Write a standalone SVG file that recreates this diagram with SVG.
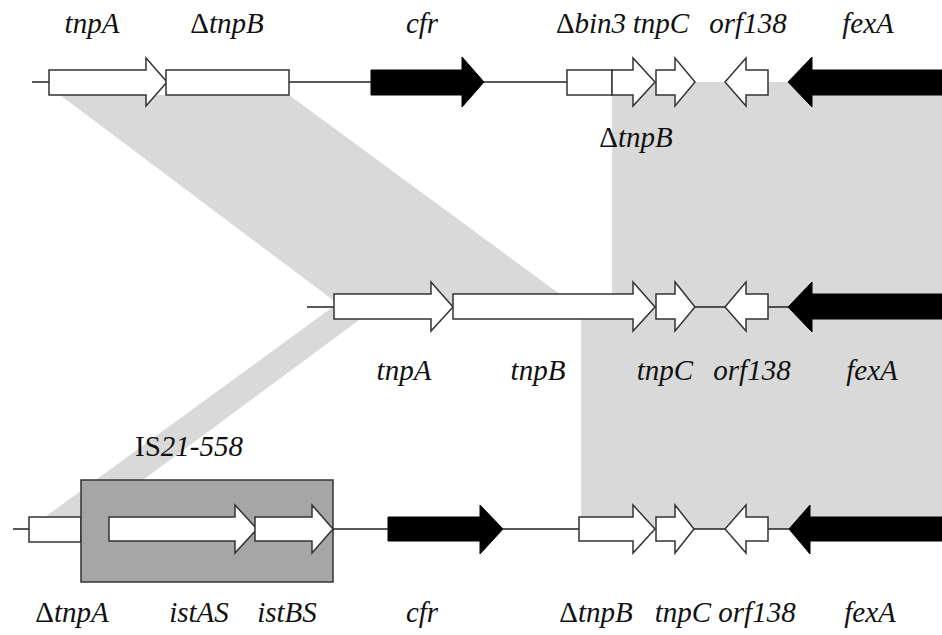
<svg xmlns="http://www.w3.org/2000/svg" width="942" height="635" viewBox="0 0 942 635" font-family="Liberation Serif, serif">
<style>
.bg{fill:#ffffff}
.band{fill:#d9d9d9;stroke:none}
.ln{stroke:#222;stroke-width:1.5;fill:none}
.w{fill:#ffffff;stroke:#333;stroke-width:1.5;stroke-linejoin:miter}
.k{fill:#000000;stroke:#000;stroke-width:1}
.is{fill:#a6a6a6;stroke:#333;stroke-width:1.5}
.t{font-family:'Liberation Serif','Times New Roman',serif;font-size:29px;font-style:italic;fill:#111;text-anchor:middle}
.up{font-style:normal}
</style>
<rect class="bg" x="0" y="0" width="942" height="635"/>
<g id="homology">
<polygon class="band" points="60,95 289,95 576,306 341,306"/>
<polygon class="band" points="334,306 378,306 93,517 45,517"/>
<polygon class="band" points="612,82 945,82 945,529 581,529 581,307 612,307"/>
</g>
<g id="connectors">
<line class="ln" x1="32" y1="82" x2="49" y2="82"/>
<line class="ln" x1="289" y1="82" x2="371" y2="82"/>
<line class="ln" x1="484" y1="82" x2="567" y2="82"/>
<line class="ln" x1="307" y1="307" x2="334" y2="307"/>
<line class="ln" x1="695" y1="307" x2="725" y2="307"/>
<line class="ln" x1="768" y1="307" x2="788" y2="307"/>
<line class="ln" x1="13" y1="529" x2="29" y2="529"/>
<line class="ln" x1="333" y1="529" x2="388" y2="529"/>
<line class="ln" x1="503" y1="529" x2="579" y2="529"/>
<line class="ln" x1="694" y1="529" x2="725" y2="529"/>
<line class="ln" x1="768" y1="529" x2="789" y2="529"/>
</g>
<g id="row1">
<g id="r1-tnpA"><polygon class="w" points="49,70 146,70 146,58 167,82 146,106 146,95 49,95"/><text class="t" x="92" y="33">tnpA</text></g>
<g id="r1-dtnpB"><rect class="w" x="166" y="70" width="123" height="25"/><text class="t" x="227" y="33"><tspan class="up">Δ</tspan>tnpB</text></g>
<g id="r1-cfr"><polygon class="k" points="371,70 462,70 462,57 484,82 462,107 462,95 371,95"/><text class="t" x="422" y="33">cfr</text></g>
<g id="r1-dbin3"><rect class="w" x="567" y="70" width="45" height="25"/><text class="t" x="591" y="33"><tspan class="up">Δ</tspan>bin3</text></g>
<g id="r1-dtnpB2"><polygon class="w" points="612,70 633,70 633,58 655,82 633,106 633,95 612,95"/><text class="t" x="636" y="147"><tspan class="up">Δ</tspan>tnpB</text></g>
<g id="r1-tnpC"><polygon class="w" points="656,70 675,70 675,58 695,82 675,106 675,95 656,95"/><text class="t" x="661" y="33">tnpC</text></g>
<g id="r1-orf138"><polygon class="w" points="768,70 746,70 746,58 725,82 746,106 746,95 768,95"/><text class="t" x="748" y="33">orf138</text></g>
<g id="r1-fexA"><polygon class="k" points="945,70 812,70 812,57 788,82 812,107 812,95 945,95"/><text class="t" x="868" y="33">fexA</text></g>
</g>
<g id="row2">
<g id="r2-tnpA"><polygon class="w" points="334,294 431,294 431,282 453,307 431,331 431,319 334,319"/><text class="t" x="404" y="380">tnpA</text></g>
<g id="r2-tnpB"><polygon class="w" points="453,294 633,294 633,282 655,307 633,331 633,319 453,319"/><text class="t" x="538" y="380">tnpB</text></g>
<g id="r2-tnpC"><polygon class="w" points="656,294 675,294 675,282 695,307 675,331 675,319 656,319"/><text class="t" x="665" y="380">tnpC</text></g>
<g id="r2-orf138"><polygon class="w" points="768,294 746,294 746,282 725,307 746,331 746,319 768,319"/><text class="t" x="752" y="380">orf138</text></g>
<g id="r2-fexA"><polygon class="k" points="945,294 812,294 812,282 788,307 812,332 812,319 945,319"/><text class="t" x="872" y="380">fexA</text></g>
</g>
<g id="row3">
<g id="r3-dtnpA"><rect class="w" x="29" y="517" width="52" height="25"/><text class="t" x="72" y="622"><tspan class="up">Δ</tspan>tnpA</text></g>
<g id="r3-IS"><rect class="is" x="81" y="480" width="252" height="102"/><text class="t" x="189" y="456"><tspan class="up">IS</tspan>21-558</text></g>
<g id="r3-istAS"><polygon class="w" points="109,517 235,517 235,505 257,529 235,553 235,541 109,541"/><text class="t" x="199" y="622">istAS</text></g>
<g id="r3-istBS"><polygon class="w" points="255,517 312,517 312,505 333,529 312,553 312,541 255,541"/><text class="t" x="287" y="622">istBS</text></g>
<g id="r3-cfr"><polygon class="k" points="388,517 480,517 480,505 503,529 480,554 480,541 388,541"/><text class="t" x="422" y="622">cfr</text></g>
<g id="r3-dtnpB"><polygon class="w" points="579,517 633,517 633,505 655,529 633,553 633,541 579,541"/><text class="t" x="596" y="622"><tspan class="up">Δ</tspan>tnpB</text></g>
<g id="r3-tnpC"><polygon class="w" points="656,517 675,517 675,505 694,529 675,553 675,541 656,541"/><text class="t" x="683" y="622">tnpC</text></g>
<g id="r3-orf138"><polygon class="w" points="768,517 746,517 746,505 725,529 746,553 746,541 768,541"/><text class="t" x="757" y="622">orf138</text></g>
<g id="r3-fexA"><polygon class="k" points="945,517 810,517 810,505 789,529 810,554 810,541 945,541"/><text class="t" x="870" y="622">fexA</text></g>
</g>
</svg>
